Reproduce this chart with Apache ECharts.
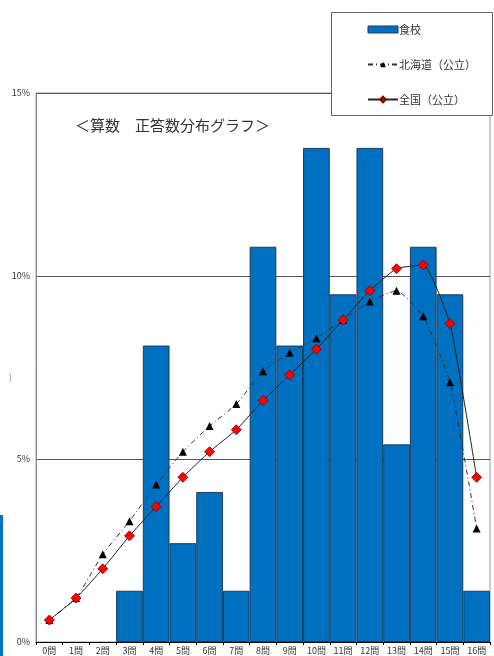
<!DOCTYPE html>
<html>
<head>
<meta charset="utf-8">
<script src="https://cdn.jsdelivr.net/npm/echarts@6/dist/echarts.min.js"></script>
<style>
  html, body { margin: 0; padding: 0; background: #fff; }
  #chart { width: 494px; height: 656px; }
</style>
</head>
<body>
<div id="chart"></div>
<script>
const categories = ["0問", "1問", "2問", "3問", "4問", "5問", "6問", "7問", "8問",
  "9問", "10問", "11問", "12問", "13問", "14問", "15問", "16問"];
const schoolValues = [0, 0, 0, 1.4, 8.1, 2.7, 4.1, 1.4, 10.8, 8.1, 13.5, 9.5, 13.5, 5.4, 10.8, 9.5, 1.4];
const hokkaidoValues = [0.6, 1.2, 2.4, 3.3, 4.3, 5.2, 5.9, 6.5, 7.4, 7.9, 8.3, 8.8, 9.3, 9.6, 8.9, 7.1, 3.1];
const nationalValues = [0.6, 1.2, 2.0, 2.9, 3.7, 4.5, 5.2, 5.8, 6.6, 7.3, 8.0, 8.8, 9.6, 10.2, 10.3, 8.7, 4.5];
const yTicks = [0, 5, 10, 15];

const font = "'Noto Sans CJK JP', 'Noto Sans', sans-serif";
const chart = echarts.init(document.getElementById("chart"));

// zero-height bars should not draw their border line
const schoolData = schoolValues.map((v) =>
  v === 0 ? { value: v, itemStyle: { borderWidth: 0 } } : v
);

chart.setOption({
  animation: false,
  backgroundColor: "#fff",
  textStyle: { fontFamily: font },
  grid: {
    left: 36, right: 4, top: 93, bottom: 14,
    show: true, borderColor: "#999", borderWidth: 1
  },
  graphic: [
    {
      type: "text", left: 75, top: 118, z: 5,
      style: { text: "＜算数　正答数分布グラフ＞", fontSize: 15, fill: "#333", fontFamily: font }
    },
    {
      type: "rect", left: 331, top: 12, z: 3,
      shape: { width: 161, height: 103 },
      style: { fill: "#fff", stroke: "#666", lineWidth: 1 }
    },
    {
      type: "rect", left: 0, top: 515,
      shape: { width: 3, height: 141 },
      style: { fill: "#0070c0" }
    },
    {
      type: "text", left: 9, top: 372,
      style: { text: ")", fontSize: 9, fill: "#888", fontFamily: font }
    }
  ],
  legend: {
    orient: "vertical",
    left: 362, top: 19, z: 10,
    itemWidth: 30, itemHeight: 7, itemGap: 24,
    textStyle: { fontSize: 11, color: "#333", fontFamily: font, padding: [0, 0, 0, -4] },
    data: [
      { name: "食校", icon: "rect", itemStyle: { color: "#0070c0", borderColor: "#1f3b5a", borderWidth: 1 } },
      { name: "北海道（公立）" },
      { name: "全国（公立）" }
    ]
  },
  xAxis: {
    type: "category",
    data: categories,
    boundaryGap: true,
    axisLine: { lineStyle: { color: "#000", width: 1 } },
    axisTick: { show: true, length: 3, lineStyle: { color: "#000" } },
    axisLabel: { fontSize: 9, color: "#333", margin: 4, interval: 0 }
  },
  yAxis: {
    type: "value",
    min: 0, max: 15, interval: 5,
    axisLine: { show: true, lineStyle: { color: "#888" } },
    axisTick: { show: false },
    axisLabel: {
      fontSize: 9, color: "#333", margin: 6,
      formatter: (v) => (yTicks.includes(v) ? v + "%" : "")
    },
    splitLine: { show: true, lineStyle: { color: "#555", width: 1 } }
  },
  series: [
    {
      name: "食校",
      type: "bar",
      data: schoolData,
      barCategoryGap: "0%",
      itemStyle: { color: "#0070c0", borderColor: "#1f3b5a", borderWidth: 1 },
      z: 2
    },
    {
      name: "北海道（公立）",
      type: "line",
      data: hokkaidoValues,
      smooth: 0.15,
      symbol: "triangle",
      symbolSize: 8,
      lineStyle: { color: "#333", width: 1, type: [5, 3, 1, 3] },
      itemStyle: { color: "#000" },
      z: 3
    },
    {
      name: "全国（公立）",
      type: "line",
      data: nationalValues,
      smooth: 0.15,
      symbol: "diamond",
      symbolSize: 10,
      lineStyle: { color: "#222", width: 1 },
      itemStyle: { color: "#ff0000", borderColor: "#800000", borderWidth: 0.8 },
      z: 4
    }
  ]
});
</script>
</body>
</html>
